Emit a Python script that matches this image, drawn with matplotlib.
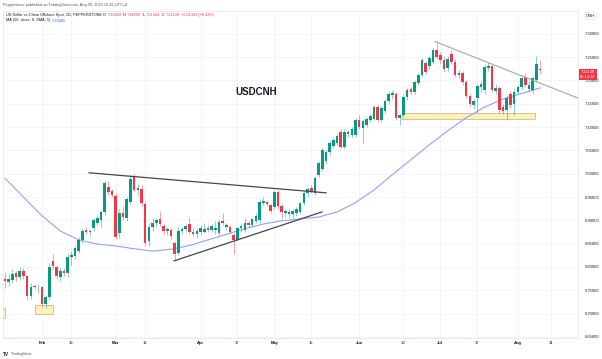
import matplotlib
matplotlib.use("Agg")
import matplotlib.pyplot as plt
import matplotlib.transforms as mtransforms
from matplotlib.patches import Rectangle
import numpy as np
import pandas as pd

plt.rcParams["font.family"] = ["Liberation Sans", "DejaVu Sans"]

# daily candles, 2023-01-18 .. 2023-08-09 (weekdays)
dates = pd.bdate_range("2023-01-18", "2023-08-09")

opens = [
    6.775, 6.768, 6.772, 6.786, 6.778, 6.792, 6.780, 6.738, 6.760, 6.756,
    6.757, 6.720, 6.735, 6.812, 6.800, 6.778, 6.792, 6.786, 6.822, 6.824,
    6.835, 6.858, 6.880, 6.875, 6.884, 6.895, 6.900, 6.918, 6.972, 6.962,
    6.952, 6.872, 6.915, 6.905, 6.940, 6.992, 6.965, 6.968, 6.935, 6.855,
    6.885, 6.895, 6.902, 6.888, 6.877, 6.880, 6.852, 6.830, 6.878, 6.882,
    6.892, 6.876, 6.870, 6.875, 6.876, 6.884, 6.880, 6.880, 6.872, 6.898,
    6.886, 6.886, 6.869, 6.858, 6.883, 6.880, 6.895, 6.890, 6.898, 6.900,
    6.938, 6.940, 6.932, 6.928, 6.960, 6.930, 6.915, 6.914, 6.914, 6.916,
    6.918, 6.937, 6.958, 6.970, 6.958, 6.998, 7.010, 7.028, 7.046, 7.060,
    7.066, 7.090, 7.058, 7.086, 7.083, 7.083, 7.115, 7.098, 7.105, 7.115,
    7.118, 7.143, 7.115, 7.135, 7.155, 7.168, 7.170, 7.120, 7.126, 7.164,
    7.182, 7.176, 7.195, 7.212, 7.238, 7.230, 7.240, 7.266, 7.254, 7.244,
    7.226, 7.256, 7.240, 7.212, 7.216, 7.196, 7.166, 7.148, 7.163, 7.185,
    7.180, 7.226, 7.230, 7.178, 7.184, 7.143, 7.137, 7.170, 7.150, 7.176,
    7.186, 7.208, 7.182, 7.180, 7.200, 7.22493,
]
highs = [
    6.790, 6.785, 6.795, 6.792, 6.800, 6.797, 6.783, 6.765, 6.764, 6.762,
    6.760, 6.740, 6.808, 6.828, 6.805, 6.800, 6.798, 6.830, 6.835, 6.845,
    6.865, 6.882, 6.885, 6.882, 6.905, 6.912, 6.922, 6.985, 6.985, 6.968,
    6.958, 6.925, 6.930, 6.950, 6.998, 7.000, 6.978, 6.975, 6.940, 6.895,
    6.905, 6.906, 6.920, 6.892, 6.886, 6.884, 6.856, 6.885, 6.886, 6.892,
    6.908, 6.884, 6.884, 6.890, 6.895, 6.890, 6.892, 6.898, 6.900, 6.915,
    6.895, 6.890, 6.872, 6.886, 6.892, 6.905, 6.898, 6.905, 6.915, 6.945,
    6.950, 6.944, 6.936, 6.965, 6.965, 6.934, 6.925, 6.925, 6.925, 6.928,
    6.940, 6.962, 6.972, 6.975, 6.995, 7.028, 7.055, 7.050, 7.070, 7.078,
    7.085, 7.095, 7.095, 7.094, 7.100, 7.120, 7.125, 7.118, 7.122, 7.128,
    7.148, 7.150, 7.145, 7.160, 7.178, 7.180, 7.176, 7.128, 7.168, 7.184,
    7.186, 7.200, 7.216, 7.248, 7.242, 7.252, 7.270, 7.285, 7.262, 7.252,
    7.252, 7.266, 7.245, 7.222, 7.220, 7.200, 7.170, 7.160, 7.192, 7.198,
    7.236, 7.240, 7.234, 7.192, 7.188, 7.150, 7.168, 7.178, 7.182, 7.190,
    7.212, 7.215, 7.198, 7.210, 7.252, 7.24295,
]
lows = [
    6.755, 6.760, 6.765, 6.770, 6.772, 6.775, 6.730, 6.732, 6.752, 6.745,
    6.715, 6.712, 6.730, 6.795, 6.775, 6.770, 6.780, 6.778, 6.805, 6.818,
    6.830, 6.852, 6.870, 6.866, 6.878, 6.890, 6.885, 6.912, 6.955, 6.950,
    6.860, 6.862, 6.900, 6.898, 6.935, 6.960, 6.955, 6.930, 6.845, 6.845,
    6.878, 6.885, 6.888, 6.870, 6.868, 6.860, 6.812, 6.825, 6.870, 6.875,
    6.870, 6.866, 6.862, 6.868, 6.872, 6.875, 6.876, 6.870, 6.868, 6.890,
    6.880, 6.872, 6.828, 6.855, 6.876, 6.876, 6.885, 6.885, 6.894, 6.895,
    6.932, 6.930, 6.915, 6.925, 6.925, 6.902, 6.908, 6.908, 6.905, 6.910,
    6.915, 6.932, 6.950, 6.958, 6.955, 6.992, 7.005, 7.020, 7.040, 7.055,
    7.062, 7.055, 7.052, 7.078, 7.078, 7.078, 7.096, 7.066, 7.100, 7.110,
    7.115, 7.110, 7.110, 7.130, 7.150, 7.160, 7.115, 7.105, 7.122, 7.158,
    7.172, 7.170, 7.190, 7.208, 7.214, 7.224, 7.236, 7.245, 7.238, 7.218,
    7.220, 7.235, 7.208, 7.205, 7.190, 7.162, 7.145, 7.138, 7.130, 7.175,
    7.172, 7.220, 7.176, 7.172, 7.130, 7.128, 7.115, 7.140, 7.126, 7.170,
    7.180, 7.185, 7.176, 7.172, 7.196, 7.21464,
]
closes = [
    6.770, 6.775, 6.785, 6.778, 6.792, 6.780, 6.738, 6.758, 6.756, 6.758,
    6.720, 6.735, 6.800, 6.802, 6.780, 6.792, 6.786, 6.822, 6.826, 6.840,
    6.858, 6.878, 6.875, 6.878, 6.900, 6.905, 6.918, 6.980, 6.960, 6.955,
    6.865, 6.915, 6.908, 6.945, 6.988, 6.965, 6.970, 6.938, 6.852, 6.885,
    6.895, 6.900, 6.892, 6.877, 6.881, 6.866, 6.828, 6.878, 6.882, 6.887,
    6.874, 6.870, 6.878, 6.884, 6.882, 6.880, 6.887, 6.884, 6.896, 6.894,
    6.890, 6.875, 6.858, 6.884, 6.888, 6.895, 6.889, 6.902, 6.910, 6.940,
    6.941, 6.934, 6.920, 6.960, 6.930, 6.918, 6.920, 6.918, 6.919, 6.924,
    6.937, 6.958, 6.968, 6.962, 6.990, 7.022, 7.050, 7.046, 7.066, 7.073,
    7.080, 7.058, 7.090, 7.090, 7.095, 7.115, 7.100, 7.112, 7.118, 7.124,
    7.143, 7.115, 7.141, 7.155, 7.172, 7.174, 7.120, 7.125, 7.164, 7.180,
    7.176, 7.196, 7.212, 7.244, 7.218, 7.249, 7.266, 7.250, 7.244, 7.224,
    7.246, 7.240, 7.212, 7.216, 7.196, 7.166, 7.150, 7.155, 7.188, 7.193,
    7.229, 7.232, 7.180, 7.184, 7.136, 7.134, 7.162, 7.148, 7.176, 7.186,
    7.205, 7.190, 7.190, 7.205, 7.23474, 7.22139,
]

# 50-day SMA every 5 sessions
ma_index = list(range(0, 146, 5))
ma_values = [
    6.990, 6.950, 6.910, 6.877, 6.858, 6.849, 6.845, 6.839, 6.834, 6.838,
    6.846, 6.858, 6.870, 6.882, 6.892, 6.899, 6.903, 6.907, 6.918, 6.938,
    6.965, 6.998, 7.030, 7.062, 7.092, 7.120, 7.143, 7.160, 7.172, 7.184,
]

# drawings: (session index, price)
upper_line = [(22.8, 7.002), (87.0, 6.959)]
lower_line = [(45.8, 6.813), (85.9, 6.918)]
down_line = [(116.5, 7.2835), (156.0, 7.160)]
zones = [(-3.0, 0.0, 6.691, 6.712), (8.1, 13.0, 6.700, 6.718), (107.6, 143.6, 7.118, 7.131)]

tick_dates = ["2023-02-01", "2023-02-13", "2023-03-01", "2023-03-13", "2023-04-03",
              "2023-04-17", "2023-05-01", "2023-05-15", "2023-06-01", "2023-06-19",
              "2023-07-03", "2023-07-17", "2023-08-01", "2023-08-14"]
tick_labels = ["Feb", "13", "Mar", "13", "Apr", "17", "May", "15", "Jun", "19",
               "Jul", "17", "Aug", "14"]
price_ticks = [round(6.65 + 0.05 * k, 2) for k in range(14)]

UP = "#089981"
DOWN = "#f23645"
TEXT = "#131722"
W, H = 602, 359

fig = plt.figure(figsize=(W / 100, H / 100), dpi=100)
fig.patch.set_facecolor("white")
ax = fig.add_axes([3 / W, 1 - 338 / H, 575 / W, 327 / H])

o = np.array(opens)
h = np.array(highs)
l = np.array(lows)
c = np.array(closes)
x = np.arange(len(c))
colors = np.where(c >= o, UP, DOWN)

ax.vlines(x, l, h, colors=colors, linewidth=0.6, alpha=0.55, zorder=3)
body_low = np.minimum(o, c)
body_h = np.maximum(np.abs(c - o), 0.0015)
ax.bar(x, body_h, bottom=body_low, width=0.7, color=colors, linewidth=0, zorder=4)

ax.plot(ma_index, ma_values, color="#8ea5f6", linewidth=0.8, zorder=2)

for (x0, y0), (x1, y1) in [upper_line, lower_line]:
    ax.plot([x0, x1], [y0, y1], color="#434651", linewidth=0.9, zorder=5)
ax.plot([p[0] for p in down_line], [p[1] for p in down_line],
        color="#a3a6af", linewidth=0.8, zorder=5)

for xa, xb, ya, yb in zones:
    ax.add_patch(Rectangle((xa, ya), xb - xa, yb - ya, facecolor="#fcf1bd",
                           edgecolor="#cdbf7a", linewidth=0.6, zorder=1))

ax.text(68.0, 7.176, "USDCNH", fontsize=7, fontweight="bold", color=TEXT,
        ha="center", va="center", zorder=6)

# axes / grid
ax.set_xlim(-0.54, 155.3)
ax.set_ylim(6.6476, 7.349)
all_days = pd.bdate_range("2023-01-18", "2023-08-31")
tick_pos = [all_days.get_loc(pd.Timestamp(d)) for d in tick_dates]
ax.set_xticks(tick_pos)
ax.set_xticklabels(tick_labels)
for lab in ax.get_xticklabels():
    if not lab.get_text().isdigit():
        lab.set_fontweight("bold")
ax.set_yticks(price_ticks)
ax.set_yticklabels([f"{p:.5f}" for p in price_ticks])
ax.yaxis.tick_right()
ax.tick_params(axis="y", length=0, pad=5, labelsize=3, labelcolor=TEXT)
ax.tick_params(axis="x", length=0, pad=2.5, labelsize=3, labelcolor=TEXT)
ax.grid(True, color="#f0f2f6", linewidth=0.5, zorder=0)
ax.set_axisbelow(True)
for sp in ax.spines.values():
    sp.set_color("#e0e3eb")
    sp.set_linewidth(0.5)

# last price tag on the price scale
tag = mtransforms.blended_transform_factory(ax.transAxes, ax.transData)
ax.text(1.004, closes[-1], "7.22139\n05:14:16", transform=tag, fontsize=2.8,
        color="white", ha="left", va="top", linespacing=1.1,
        bbox=dict(boxstyle="square,pad=0.35", facecolor=DOWN, edgecolor="none"),
        clip_on=False, zorder=10)
ax.text(1.0 + 8 / 575, 1 - 5 / 327, "CNH", transform=ax.transAxes, fontsize=3,
        color=TEXT, ha="left", va="center",
        bbox=dict(boxstyle="round,pad=0.3", facecolor="white", edgecolor="#e0e3eb", linewidth=0.4))

renderer = fig.canvas.get_renderer()


def text_runs(x_px, y_px, runs, size):
    for s, col in runs:
        t = fig.text(x_px / W, 1 - y_px / H, s, color=col, fontsize=size,
                     ha="left", va="center")
        bb = t.get_window_extent(renderer=renderer)
        x_px = bb.x1 + 1.3


text_runs(3, 5, [("Pepperstone published on TradingView.com, Aug 09, 2023 15:45 UTC+8", "#50535e")], 2.8)
text_runs(6, 15, [("US Dollar vs China Offshore Spot, 1D, PEPPERSTONE", TEXT),
                  ("O", TEXT), ("7.22493", DOWN), ("H", TEXT), ("7.24295", DOWN),
                  ("L", TEXT), ("7.21464", DOWN), ("C", TEXT), ("7.22139", DOWN),
                  ("\u22120.01335 (\u22120.18%)", DOWN)], 2.8)
text_runs(6, 20.5, [("MA (50, close, 0, SMA, 5)", TEXT), ("7.18405", "#2962ff")], 2.8)
text_runs(3, 354, [("TV", TEXT)], 3.4)
fig.texts[-1].set_fontweight("bold")
text_runs(11, 354, [("TradingView", "#50535e")], 2.8)

fig.savefig("out.png", dpi=100, facecolor="white")
